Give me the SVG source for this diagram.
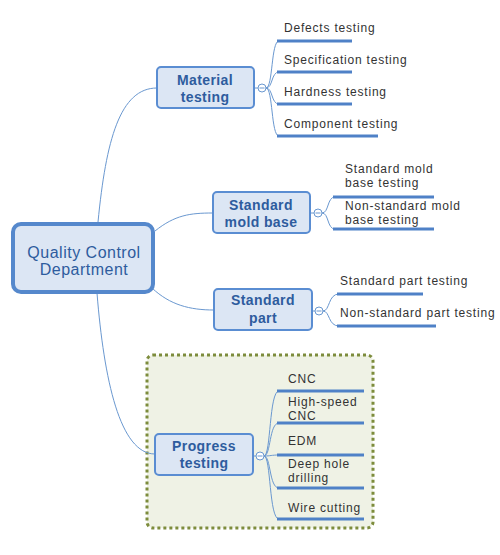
<svg xmlns="http://www.w3.org/2000/svg" width="500" height="555" viewBox="0 0 500 555">
<style>
.node{fill:#dce6f4;stroke:#5a8dd2;stroke-width:2}
.root{fill:#dce6f4;stroke:#5588cc;stroke-width:4}
.t1{font-family:"Liberation Sans",Arial,sans-serif;font-size:14px;font-weight:bold;fill:#2e5c9e;text-anchor:middle;letter-spacing:0.4px}
.t0{font-family:"Liberation Sans",Arial,sans-serif;font-size:16px;fill:#2e5c9e;text-anchor:middle;letter-spacing:0.5px}
.t2{font-family:"Liberation Sans",Arial,sans-serif;font-size:12px;fill:#333;letter-spacing:0.8px}
.ln{fill:none;stroke:#6a98d0;stroke-width:1}
.ul{stroke:#4f81c7;stroke-width:3}
.tog{fill:#fff;stroke:#6a98d0;stroke-width:1}
.mn{stroke:#6a98d0;stroke-width:1}
</style>
<rect x="147" y="355" width="226" height="173" rx="6" fill="#eff2e5" stroke="#7d8c3c" stroke-width="3" stroke-dasharray="3 3"/>
<g id="connectors">
<path class="ln" d="M98,222 C106,140 120,88 157,88"/>
<path class="ln" d="M155,231 C175,215 190,213 213,213"/>
<path class="ln" d="M152,288 C170,305 190,310 214,310"/>
<path class="ln" d="M97,293 C104,380 120,454 155,454"/>
<path class="ln" d="M254,88 H258 M266,88 C273,88 271,41 279,41 M266,88 C273,88 271,72 279,72 M266,88 C273,88 271,104 279,104 M266,88 C273,88 271,136 279,136"/>
<path class="ln" d="M310,213 H314 M322,213 C329,213 327,197 335,197 M322,213 C329,213 327,229 335,229"/>
<path class="ln" d="M312,311 H315 M323,311 C330,311 328,294 339,294 M323,311 C330,311 328,326 339,326"/>
<path class="ln" d="M253,456 H256 M264,456 C271,456 269,391 279,391 M264,456 C271,456 269,423 279,423 M264,456 C271,456 271,455 279,455 M264,456 C271,456 269,488 279,488 M264,456 C271,456 269,519 279,519"/>
</g>
<g id="root">
<rect class="root" x="13" y="224" width="140" height="68" rx="8"/>
<text class="t0" x="84" y="258">Quality Control</text>
<text class="t0" x="84" y="275">Department</text>
</g>
<g id="material">
<rect class="node" x="157" y="67" width="97" height="41" rx="4"/>
<text class="t1" x="205" y="85">Material</text>
<text class="t1" x="205" y="102">testing</text>
<circle class="tog" cx="262" cy="88" r="4"/><path class="mn" d="M259.5,88 H264.5"/>
</g>
<g id="mold">
<rect class="node" x="213" y="192" width="97" height="41" rx="4"/>
<text class="t1" x="261" y="210">Standard</text>
<text class="t1" x="261" y="227">mold base</text>
<circle class="tog" cx="318" cy="213" r="4"/><path class="mn" d="M315.5,213 H320.5"/>
</g>
<g id="part">
<rect class="node" x="214" y="289" width="98" height="41" rx="4"/>
<text class="t1" x="263" y="305">Standard</text>
<text class="t1" x="263" y="323">part</text>
<circle class="tog" cx="319" cy="311" r="4"/><path class="mn" d="M316.5,311 H321.5"/>
</g>
<g id="progress">
<rect class="node" x="155" y="434" width="98" height="41" rx="4"/>
<text class="t1" x="204" y="451">Progress</text>
<text class="t1" x="204" y="468">testing</text>
<circle class="tog" cx="260" cy="456" r="4"/><path class="mn" d="M257.5,456 H262.5"/>
</g>
<g id="m1"><text class="t2" x="284" y="32">Defects testing</text><line class="ul" x1="277" y1="41" x2="352" y2="41"/></g>
<g id="m2"><text class="t2" x="284" y="64">Specification testing</text><line class="ul" x1="277" y1="72" x2="352" y2="72"/></g>
<g id="m3"><text class="t2" x="284" y="96">Hardness testing</text><line class="ul" x1="277" y1="104" x2="352" y2="104"/></g>
<g id="m4"><text class="t2" x="284" y="128">Component testing</text><line class="ul" x1="277" y1="136" x2="378" y2="136"/></g>
<g id="b1"><text class="t2" x="345" y="173">Standard mold</text><text class="t2" x="345" y="187">base testing</text><line class="ul" x1="333" y1="197" x2="434" y2="197"/></g>
<g id="b2"><text class="t2" x="345" y="210">Non-standard mold</text><text class="t2" x="345" y="224">base testing</text><line class="ul" x1="333" y1="229" x2="434" y2="229"/></g>
<g id="p1"><text class="t2" x="340" y="285">Standard part testing</text><line class="ul" x1="337" y1="294" x2="423" y2="294"/></g>
<g id="p2"><text class="t2" x="340" y="317">Non-standard part testing</text><line class="ul" x1="337" y1="326" x2="436" y2="326"/></g>
<g id="g1"><text class="t2" x="288" y="383">CNC</text><line class="ul" x1="277" y1="391" x2="364" y2="391"/></g>
<g id="g2"><text class="t2" x="288" y="406">High-speed</text><text class="t2" x="288" y="420">CNC</text><line class="ul" x1="277" y1="423" x2="364" y2="423"/></g>
<g id="g3"><text class="t2" x="288" y="445">EDM</text><line class="ul" x1="277" y1="455" x2="364" y2="455"/></g>
<g id="g4"><text class="t2" x="288" y="468">Deep hole</text><text class="t2" x="288" y="482">drilling</text><line class="ul" x1="277" y1="488" x2="364" y2="488"/></g>
<g id="g5"><text class="t2" x="288" y="512">Wire cutting</text><line class="ul" x1="277" y1="519" x2="364" y2="519"/></g>
</svg>
